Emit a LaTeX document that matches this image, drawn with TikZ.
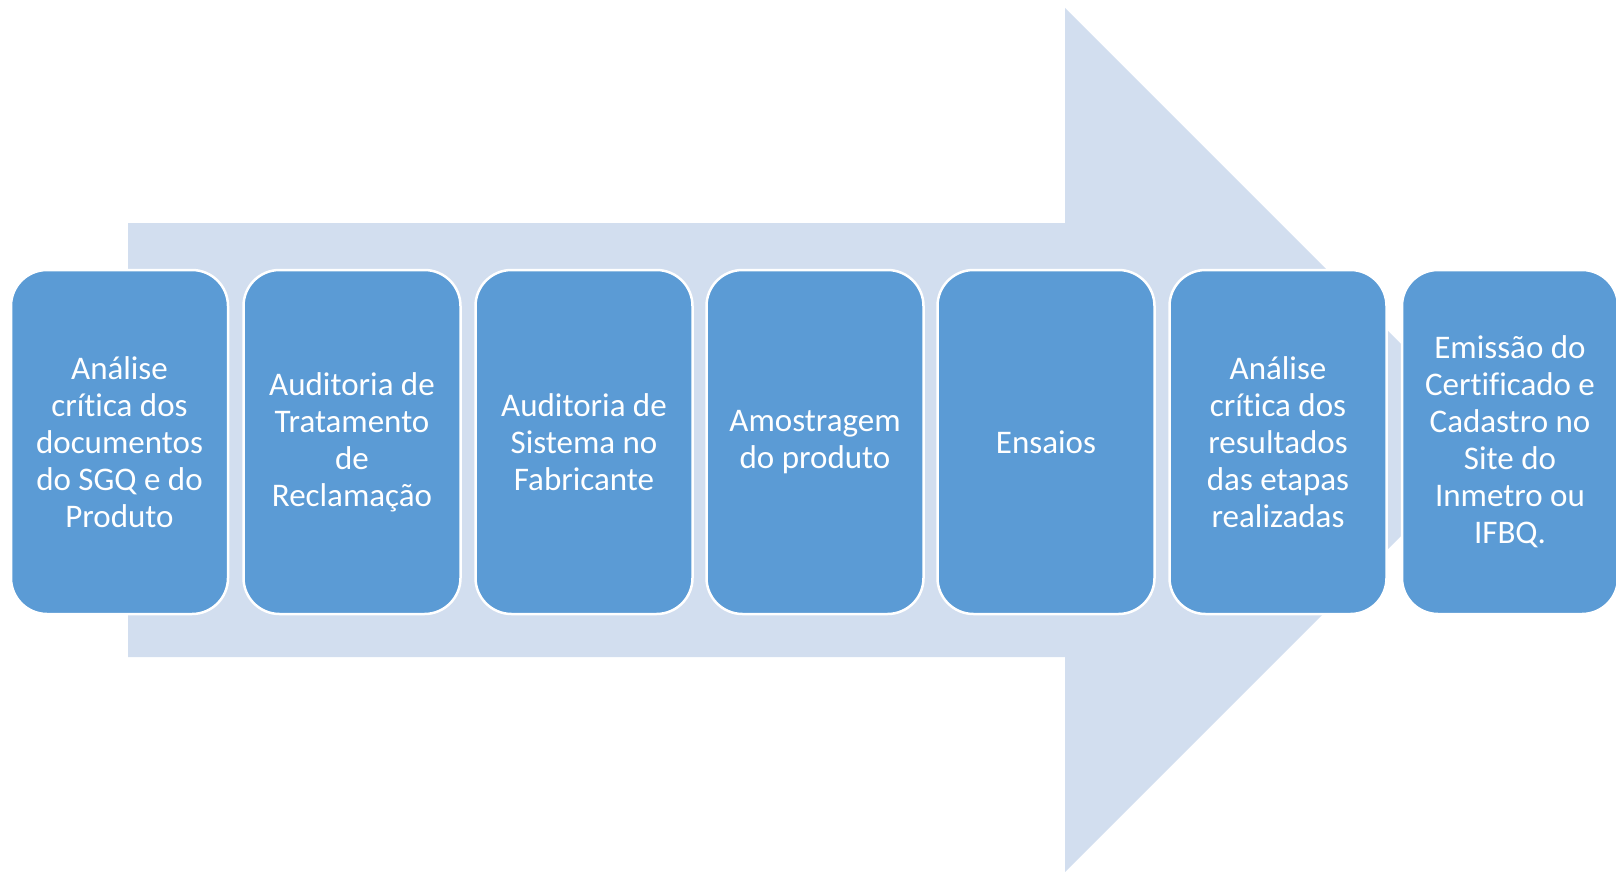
\documentclass[tikz,border=0pt]{standalone}
\usepackage{fontspec}
\setmainfont{Carlito}[Ligatures=NoCommon]
\definecolor{arrowfill}{HTML}{D2DEEF}
\definecolor{boxfill}{HTML}{5B9BD5}
\begin{document}
\begin{tikzpicture}[x=1pt,y=-1pt,
  stepbox/.style={draw=white, line width=2.5pt, fill=boxfill, rounded corners=36pt,
    minimum width=217pt, minimum height=344pt, inner sep=0pt, align=center,
    text=white, font=\fontsize{33}{37}\selectfont}]
\useasboundingbox (0,0) rectangle (1616,872);
\fill[arrowfill] (128,223) -- (1065,223) -- (1065,8) -- (1497,440) -- (1065,872) -- (1065,657) -- (128,657) -- cycle;
\node[stepbox] (s1) at (119.5,442) {Análise\\crítica dos\\documentos\\do SGQ e do\\Produto};
\node[stepbox] (s2) at (352,442) {Auditoria de\\Tratamento\\de\\Reclamação};
\node[stepbox] (s3) at (584,442) {Auditoria de\\Sistema no\\Fabricante};
\node[stepbox] (s4) at (815,442) {Amostragem\\do produto};
\node[stepbox] (s5) at (1046,442) {Ensaios};
\node[stepbox] (s6) at (1278,442) {Análise\\crítica dos\\resultados\\das etapas\\realizadas};
\node[stepbox, minimum width=216pt] (s7) at (1510,442) {Emissão do\\Certificado e\\Cadastro no\\Site do\\Inmetro ou\\IFBQ.};
\end{tikzpicture}
\end{document}
